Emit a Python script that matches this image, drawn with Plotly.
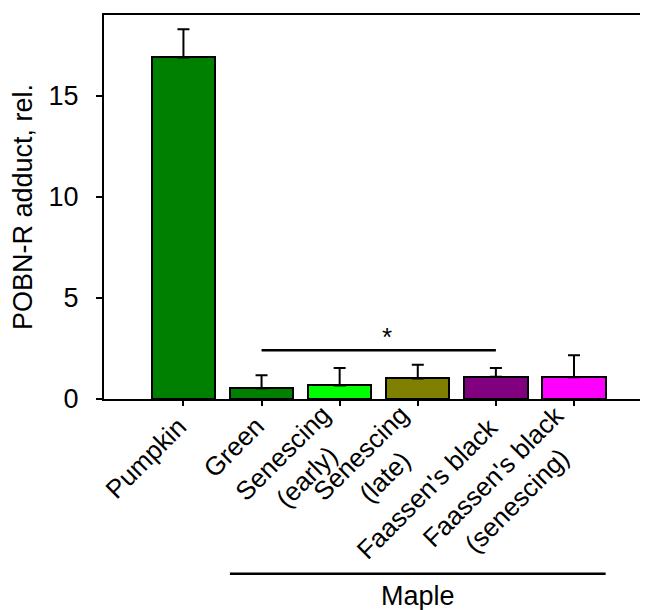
import plotly.graph_objects as go

categories = ["Pumpkin", "Green", "Senescing<br>(early)", "Senescing<br>(late)",
              "Faassen's black", "Faassen's black<br>(senescing)"]
values = [16.9, 0.53, 0.67, 1.02, 1.10, 1.08]
errors_up = [1.4, 0.65, 0.86, 0.67, 0.43, 1.09]
colors = ["#008000", "#008000", "#00FF00", "#808000", "#800080", "#FF00FF"]
y_ticks = [0, 5, 10, 15]

sig_from, sig_to, sig_level, sig_text = 1, 4, 2.41, "*"
group_label, group_from, group_to = "Maple", 1, 5

FONT = "Liberation Sans, Arial, sans-serif"
FS = 27      # tick numbers, titles
FS_X = 26    # category labels
BAR_W = 0.81

# the page adds an 8px body margin; the figure is sized/offset to compensate
PAGE_PAD = 8

x = list(range(len(categories)))

fig = go.Figure()
fig.add_trace(go.Bar(
    x=x, y=values, width=BAR_W,
    marker=dict(color=colors, line=dict(color="black", width=2)),
    error_y=dict(type="data", array=errors_up, arrayminus=[0] * len(values),
                 symmetric=False, color="black", thickness=2, width=6),
    showlegend=False,
))

# significance bar
fig.add_shape(type="line", xref="x", yref="y", x0=sig_from, x1=sig_to,
              y0=sig_level, y1=sig_level, line=dict(color="black", width=2.5))
annotations = [dict(x=(sig_from + sig_to) / 2 + 0.1, y=sig_level, xref="x", yref="y",
                    text=sig_text, showarrow=False, yanchor="bottom", yshift=-4,
                    font=dict(family=FONT, size=26, color="black"))]

# group bracket
fig.add_shape(type="line", xref="x", yref="paper", x0=group_from - BAR_W / 2,
              x1=group_to + BAR_W / 2, y0=-0.455, y1=-0.455,
              line=dict(color="black", width=2.5))
annotations.append(dict(x=(group_from + group_to) / 2, y=-0.455, xref="x", yref="paper",
                        text=group_label, showarrow=False, yanchor="top", yshift=-6,
                        borderpad=0,
                        font=dict(family=FONT, size=FS, color="black")))

# rotated, centred category labels (block centred on its tick)
for i, lab in enumerate(categories):
    n = lab.count("<br>") + 1
    H = 1.15 * FS_X + (n - 1) * 1.3 * FS_X
    annotations.append(dict(
        x=i, y=0, xref="x", yref="y", text=lab, showarrow=False,
        textangle=-45, align="center", xanchor="right", yanchor="top",
        xshift=0.707 * H / 2 - 2, yshift=-(23 - 0.707 * H / 2),
        borderpad=0, borderwidth=0,
        font=dict(family=FONT, size=FS_X, color="black")))

fig.update_layout(
    width=650 - PAGE_PAD, height=610 - PAGE_PAD,
    margin=dict(l=100 - PAGE_PAD, r=10, t=13 - PAGE_PAD, b=211),
    plot_bgcolor="white", paper_bgcolor="white",
    font=dict(family=FONT, size=FS, color="black"),
    annotations=annotations,
    bargap=0,
)
fig.update_xaxes(range=[-1.017, 5.845], tickvals=x, ticktext=[""] * len(x),
                 showticklabels=False, ticks="outside", ticklen=5, tickwidth=1.5,
                 tickcolor="black", showline=True, linecolor="black", linewidth=2,
                 mirror=True, showgrid=False, zeroline=False)
fig.update_yaxes(range=[0, 19], tickvals=y_ticks, ticks="outside", ticklen=6,
                 tickwidth=1.5, tickcolor="black", showline=True, linecolor="black",
                 linewidth=2, showgrid=False, zeroline=False,
                 ticklabelstandoff=12,
                 title=dict(text="POBN-R adduct, rel.", standoff=17,
                            font=dict(family=FONT, size=FS)),
                 tickfont=dict(family=FONT, size=FS))

fig.write_html("out.html")
